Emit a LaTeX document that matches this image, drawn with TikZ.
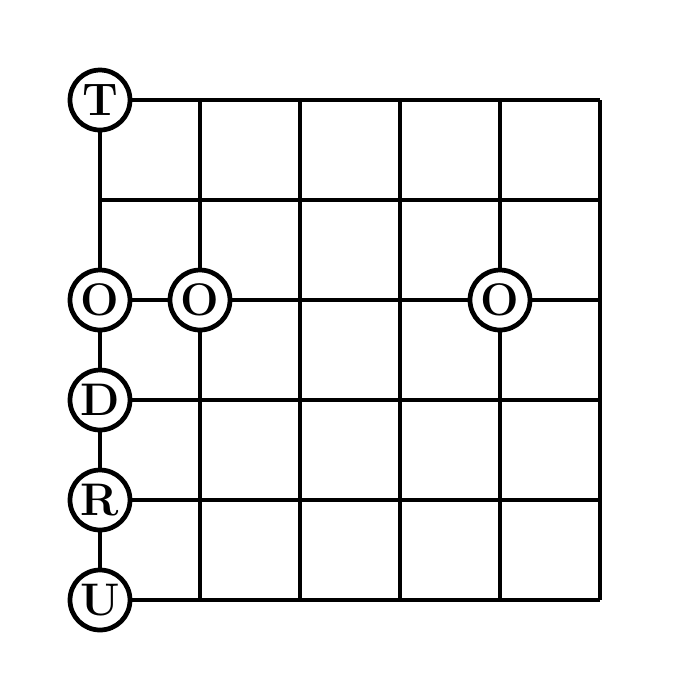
\documentclass[tikz,border=0pt]{standalone}
\usepackage{tikz}
\usetikzlibrary{calc}

\begin{document}
\begin{tikzpicture}[y=-1cm, line width=1.35pt,
    letter/.style={draw, circle, fill=white, inner sep=0pt, minimum size=0.6cm,
        font=\fontsize{13}{15}\selectfont\bfseries}]
    \useasboundingbox (0,0) rectangle (7,7);
    % corner points of the grid
    \foreach \i in {1,...,6} {
        \coordinate (L\i) at (1,\i);
        \coordinate (R\i) at (6,\i);
        \coordinate (N\i) at (\i,1);
        \coordinate (S\i) at (\i,6);
    }

    \node[letter] (T) at (1,1) {T};
    \node[letter] (O1) at (1,3) {O};
    \node[letter] (O2) at (2,3) {O};
    \node[letter] (O3) at (5,3) {O};
    \node[letter] (D) at (1,4) {D};
    \node[letter] (R) at (1,5) {R};
    \node[letter] (U) at (1,6) {U};

    % rows
    \draw (T) -- (R1);
    \draw (L2) -- (R2);
    \draw (O1) -- (O2) -- (O3) -- (R3);
    \draw (D) -- (R4);
    \draw (R) -- (R5);
    \draw (U) -- (R6);

    % columns
    \draw (T) -- (O1) -- (D) -- (R) -- (U);
    \draw (N2) -- (O2) -- (S2);
    \draw (N3) -- (S3);
    \draw (N4) -- (S4);
    \draw (N5) -- (O3) -- (S5);
    \draw (N6) -- (S6);
\end{tikzpicture}
\end{document}
